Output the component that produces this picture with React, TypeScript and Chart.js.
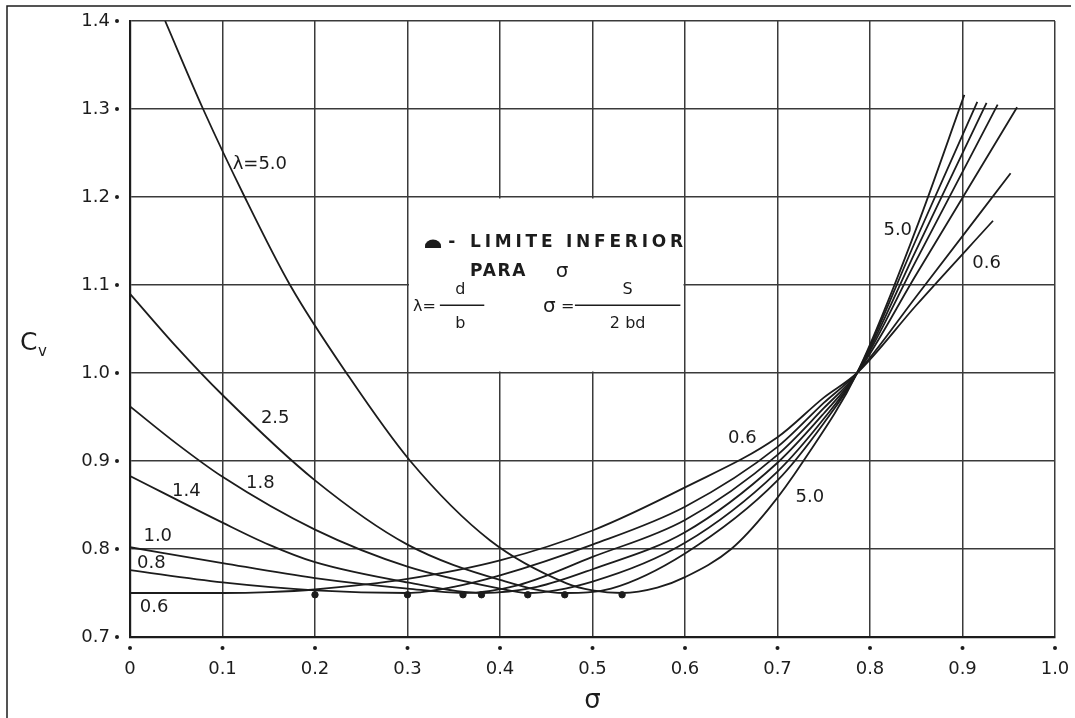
import React, { useEffect, useRef } from 'react';
import { Chart, registerables } from 'chart.js';
Chart.register(...registerables);

const W = 1075;
const H = 718;
const FONT = '"DejaVu Sans", "Liberation Sans", sans-serif';
const INK = '#1c1c1c';

// ---- data ----
const lambdaNames = ['0.6', '0.8', '1.0', '1.4', '1.8', '2.5', '5.0'];

const sigma06 = [0, 0.1, 0.15, 0.2, 0.3, 0.4, 0.5, 0.6, 0.7, 0.75, 0.786, 0.85, 0.933];
const cv06 = [0.75, 0.75, 0.751, 0.754, 0.766, 0.787, 0.821, 0.87, 0.927, 0.972, 1.0, 1.077, 1.173];

const sigma08 = [0, 0.1, 0.2, 0.3, 0.35, 0.4, 0.5, 0.6, 0.7, 0.75, 0.786, 0.85, 0.952];
const cv08 = [0.776, 0.762, 0.753, 0.75, 0.757, 0.77, 0.805, 0.848, 0.916, 0.966, 1.0, 1.087, 1.227];

const sigma10 = [0, 0.1, 0.2, 0.3, 0.36, 0.42, 0.5, 0.6, 0.7, 0.75, 0.786, 0.85, 0.959];
const cv10 = [0.802, 0.784, 0.767, 0.755, 0.75, 0.759, 0.791, 0.833, 0.907, 0.96, 1.0, 1.112, 1.302];

const sigma14 = [0, 0.1, 0.15, 0.2, 0.3, 0.38, 0.44, 0.5, 0.6, 0.7, 0.75, 0.786, 0.85, 0.938];
const cv14 = [0.883, 0.83, 0.805, 0.785, 0.762, 0.75, 0.757, 0.777, 0.819, 0.898, 0.954, 1.0, 1.128, 1.305];

const sigma18 = [0, 0.05, 0.1, 0.2, 0.3, 0.4, 0.43, 0.5, 0.6, 0.7, 0.75, 0.786, 0.85, 0.926];
const cv18 = [0.962, 0.92, 0.882, 0.822, 0.78, 0.755, 0.75, 0.763, 0.807, 0.888, 0.948, 1.0, 1.14, 1.307];

const sigma25 = [0, 0.05, 0.1, 0.2, 0.3, 0.4, 0.47, 0.52, 0.6, 0.7, 0.75, 0.786, 0.85, 0.916];
const cv25 = [1.09, 1.03, 0.975, 0.878, 0.805, 0.765, 0.75, 0.755, 0.795, 0.878, 0.943, 1.0, 1.152, 1.308];

const sigma50 = [0.038, 0.079, 0.124, 0.173, 0.234, 0.303, 0.389, 0.472, 0.5, 0.532, 0.57, 0.6, 0.65, 0.69, 0.728, 0.786, 0.85, 0.902];
const cv50 = [1.4, 1.3, 1.2, 1.1, 1.0, 0.9, 0.81, 0.761, 0.753, 0.75, 0.756, 0.768, 0.8, 0.845, 0.9, 1.0, 1.164, 1.316];

// "limite inferior para sigma" markers
const limitSigma = [0.2, 0.3, 0.36, 0.38, 0.43, 0.47, 0.532];
const limitCv = [0.748, 0.748, 0.748, 0.748, 0.748, 0.748, 0.748];

const xTickValues = [0, 0.1, 0.2, 0.3, 0.4, 0.5, 0.6, 0.7, 0.8, 0.9, 1.0];
const xTickLabels = ['0', '0.1', '0.2', '0.3', '0.4', '0.5', '0.6', '0.7', '0.8', '0.9', '1.0'];
const yTickValues = [0.7, 0.8, 0.9, 1.0, 1.1, 1.2, 1.3, 1.4];
const yTickLabels = ['0.7', '0.8', '0.9', '1.0', '1.1', '1.2', '1.3', '1.4'];

// curve labels: [text, sigma, Cv, align]
const curveLabels: [string, number, number, CanvasTextAlign][] = [
  ['λ=5.0', 0.111, 1.2375, 'left'],
  ['2.5', 0.157, 0.949, 'center'],
  ['1.8', 0.141, 0.875, 'center'],
  ['1.4', 0.061, 0.866, 'center'],
  ['1.0', 0.030, 0.814, 'center'],
  ['0.8', 0.023, 0.784, 'center'],
  ['0.6', 0.026, 0.734, 'center'],
  ['0.6', 0.662, 0.926, 'center'],
  ['5.0', 0.735, 0.859, 'center'],
  ['5.0', 0.830, 1.1625, 'center'],
  ['0.6', 0.926, 1.125, 'center'],
];

const allSigma = [sigma06, sigma08, sigma10, sigma14, sigma18, sigma25, sigma50];
const allCv = [cv06, cv08, cv10, cv14, cv18, cv25, cv50];

export default function App() {
  const ref = useRef<HTMLCanvasElement>(null);
  useEffect(() => {
    const canvas = ref.current;
    if (!canvas) return;

    const datasets: any[] = allSigma.map((sx, i) => ({
      label: 'λ=' + lambdaNames[i],
      data: sx.map((s, j) => ({ x: s, y: allCv[i][j] })),
      borderColor: INK,
      borderWidth: 1.8,
      pointRadius: 0,
      fill: false,
      cubicInterpolationMode: 'monotone',
    }));
    datasets.push({
      type: 'scatter',
      label: 'limite',
      data: limitSigma.map((s, j) => ({ x: s, y: limitCv[j] })),
      pointRadius: 3.2,
      pointBackgroundColor: INK,
      pointBorderColor: INK,
      showLine: false,
    });

    const annot = {
      id: 'annot',
      beforeDatasetsDraw(chart: any) {
        const ctx = chart.ctx;
        const xs = chart.scales.x;
        const ys = chart.scales.y;
        const x0 = xs.getPixelForValue(0.3) + 1.5;
        const x1 = xs.getPixelForValue(0.6) - 1.5;
        const y0 = ys.getPixelForValue(1.2) + 1.5;
        const y1 = ys.getPixelForValue(1.0) - 1.5;
        ctx.save();
        ctx.fillStyle = '#fff';
        ctx.fillRect(x0, y0, x1 - x0, y1 - y0);
        ctx.restore();
      },
      afterDraw(chart: any) {
        const ctx = chart.ctx;
        const xs = chart.scales.x;
        const ys = chart.scales.y;
        const px = (v: number) => xs.getPixelForValue(v);
        const py = (v: number) => ys.getPixelForValue(v);
        const area = chart.chartArea;
        ctx.save();
        ctx.fillStyle = INK;
        ctx.strokeStyle = INK;
        // tick dots
        yTickValues.forEach((v) => {
          ctx.beginPath();
          ctx.arc(area.left - 13, py(v), 2, 0, Math.PI * 2);
          ctx.fill();
        });
        xTickValues.forEach((v) => {
          ctx.beginPath();
          ctx.arc(px(v), area.bottom + 11, 2, 0, Math.PI * 2);
          ctx.fill();
        });
        // curve labels
        ctx.font = '18px ' + FONT;
        ctx.textBaseline = 'middle';
        curveLabels.forEach(([t, s, c, a]) => {
          ctx.textAlign = a;
          ctx.fillText(t, px(s), py(c));
        });
        // box legend
        ctx.beginPath();
        ctx.ellipse(px(0.3276), py(1.1466) + 2, 8, 6.5, 0, Math.PI, 2 * Math.PI);
        ctx.lineTo(px(0.3276) + 8, py(1.1466) + 4);
        ctx.lineTo(px(0.3276) - 8, py(1.1466) + 4);
        ctx.closePath();
        ctx.fill();
        ctx.font = 'bold 17px ' + FONT;
        ctx.textAlign = 'left';
        ctx.fillText('-', px(0.344), py(1.1477));
        const spaced = (t: string, left: number, right: number, y: number) => {
          (ctx as any).letterSpacing = '0px';
          const w = ctx.measureText(t).width;
          const sp = (right - left - w) / (t.length - 1);
          (ctx as any).letterSpacing = sp + 'px';
          ctx.fillText(t, left, y);
          (ctx as any).letterSpacing = '0px';
        };
        spaced('LIMITE INFERIOR', px(0.3676), px(0.598), py(1.1477));
        spaced('PARA', px(0.3676), px(0.4276), py(1.1148));
        ctx.font = '20px ' + FONT;
        ctx.textAlign = 'center';
        ctx.fillText('σ', px(0.467), py(1.1148));
        // lambda = d / b
        ctx.font = '16px ' + FONT;
        ctx.textAlign = 'left';
        ctx.fillText('λ=', px(0.306), py(1.075));
        ctx.textAlign = 'center';
        ctx.fillText('d', px(0.357), py(1.094));
        ctx.fillText('b', px(0.357), py(1.056));
        ctx.lineWidth = 1.6;
        ctx.beginPath();
        ctx.moveTo(px(0.335), py(1.077));
        ctx.lineTo(px(0.383), py(1.077));
        ctx.stroke();
        // sigma = S / 2bd
        ctx.textAlign = 'left';
        ctx.font = '20px ' + FONT;
        ctx.fillText('σ', px(0.4465), py(1.075));
        ctx.font = '16px ' + FONT;
        ctx.fillText('=', px(0.466), py(1.075));
        ctx.textAlign = 'center';
        ctx.fillText('S', px(0.538), py(1.094));
        ctx.fillText('2 bd', px(0.538), py(1.056));
        ctx.beginPath();
        ctx.moveTo(px(0.481), py(1.077));
        ctx.lineTo(px(0.595), py(1.077));
        ctx.stroke();
        // axis titles
        ctx.textAlign = 'left';
        ctx.textBaseline = 'alphabetic';
        ctx.font = '25px ' + FONT;
        ctx.fillText('C', 20, 350);
        ctx.font = '15px ' + FONT;
        ctx.fillText('v', 38, 356);
        ctx.font = '26px ' + FONT;
        ctx.textAlign = 'center';
        ctx.fillText('σ', px(0.5), 708);
        // outer frame
        ctx.lineWidth = 1.5;
        ctx.beginPath();
        ctx.moveTo(7, H);
        ctx.lineTo(7, 6);
        ctx.lineTo(W - 4, 6);
        ctx.stroke();
        ctx.restore();
      },
    };

    const chart = new Chart(canvas, {
      type: 'line',
      data: { datasets },
      options: {
        animation: false,
        responsive: false,
        maintainAspectRatio: false,
        layout: { padding: { top: 21, right: 20, left: 0, bottom: 0 } },
        plugins: { legend: { display: false }, tooltip: { enabled: false } },
        scales: {
          x: {
            type: 'linear',
            min: 0,
            max: 1,
            afterFit: (s: any) => {
              s.height = 81;
              s.paddingLeft = 0;
              s.paddingRight = 0;
            },
            afterBuildTicks: (s: any) => {
              s.ticks = xTickValues.map((v) => ({ value: v }));
            },
            grid: { color: '#3a3a3a', lineWidth: 1.5, drawTicks: false },
            border: { display: true, color: INK, width: 2.2 },
            ticks: {
              autoSkip: false,
              maxRotation: 0,
              padding: 22,
              color: INK,
              font: { family: FONT, size: 18 },
              callback: (_v: any, i: number) => xTickLabels[i],
            },
          },
          y: {
            type: 'linear',
            min: 0.7,
            max: 1.4,
            afterFit: (s: any) => {
              s.width = 130;
              s.paddingTop = 0;
              s.paddingBottom = 0;
            },
            afterBuildTicks: (s: any) => {
              s.ticks = yTickValues.map((v) => ({ value: v }));
            },
            grid: { color: '#3a3a3a', lineWidth: 1.5, drawTicks: false },
            border: { display: true, color: INK, width: 2.2 },
            ticks: {
              autoSkip: false,
              padding: 20,
              color: INK,
              font: { family: FONT, size: 18 },
              callback: (_v: any, i: number) => yTickLabels[i],
            },
          },
        },
      },
      plugins: [annot],
    } as any);
    return () => chart.destroy();
  }, []);
  return (
    <div style={{ position: 'fixed', left: 0, top: 0, width: W, height: H, background: '#fff' }}>
      <canvas ref={ref} width={W} height={H} style={{ width: W, height: H, display: 'block' }} />
    </div>
  );
}
